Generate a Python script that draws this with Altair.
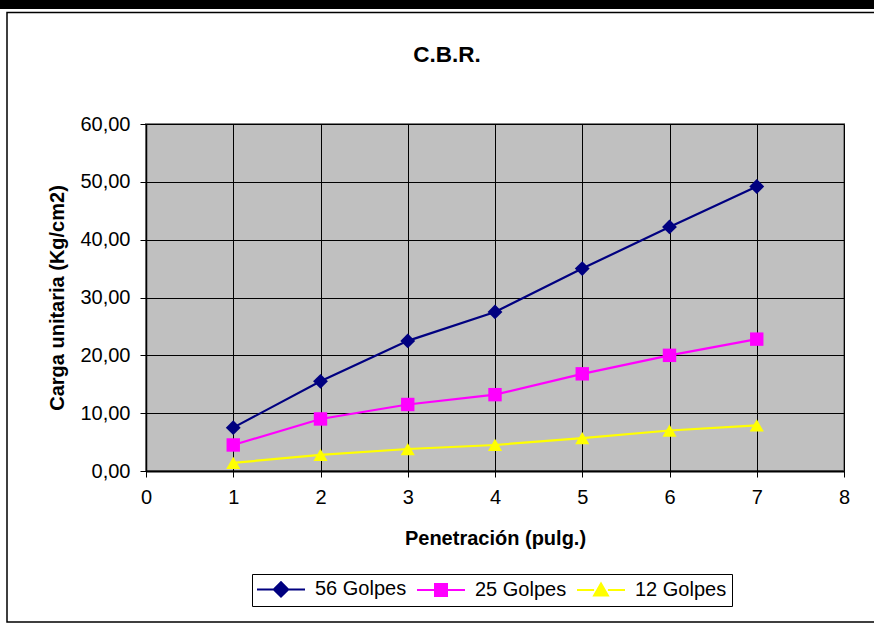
import altair as alt
import pandas as pd

# Penetración (pulg.) y carga unitaria (Kg/cm2) por número de golpes
penetracion = [1, 2, 3, 4, 5, 6, 7]
golpes_56 = [7.5, 15.5, 22.5, 27.5, 35.0, 42.2, 49.2]
golpes_25 = [4.5, 9.0, 11.5, 13.2, 16.8, 20.0, 22.8]
golpes_12 = [1.4, 2.8, 3.8, 4.5, 5.7, 7.0, 7.9]

series = ["56 Golpes", "25 Golpes", "12 Golpes"]
colores = ["#000080", "#FF00FF", "#FFFF00"]
formas = ["diamond", "square", "triangle-up"]
tamanos = [220, 180, 200]

x_ticks = [0, 1, 2, 3, 4, 5, 6, 7, 8]
y_ticks = [0, 10, 20, 30, 40, 50, 60]

titulo = "C.B.R."

rows = []
for name, vals in zip(series, [golpes_56, golpes_25, golpes_12]):
    for p, v in zip(penetracion, vals):
        rows.append({"serie": name, "penetracion": p, "carga": v})
df = pd.DataFrame(rows)

FONT = "Liberation Sans"
W, H = 698, 347
LEFT, TOP = 146, 124

# legend symbols: short line through the marker
simbolos = [
    "M-4,0H-1.2M-1.2,0L0,-1.2L1.2,0L0,1.2ZM1.2,0H4",
    "M-4,0H-1M-1,-1H1V1H-1ZM1,0H4",
    "M-4,0H-1.15M-1.15,0.9L0,-1.1L1.15,0.9ZM1.15,0H4",
]

leyenda = alt.Legend(
    title=None,
    orient="none",
    legendX=252 - LEFT,
    legendY=574 - TOP,
    direction="horizontal",
    fillColor="white",
    strokeColor="black",
    padding=5,
    symbolSize=144,
    symbolOffset=14,
    symbolStrokeWidth=2,
    symbolOpacity=1,
    labelOffset=24,
    columnPadding=6,
    labelFont=FONT,
    labelFontSize=20,
    labelColor="black",
)

x = alt.X(
    "penetracion:Q",
    scale=alt.Scale(domain=[0, 8], nice=False),
    axis=alt.Axis(
        values=x_ticks,
        title="Penetración (pulg.)",
        titleFont=FONT,
        titleFontSize=20,
        titleFontWeight="bold",
        titleColor="black",
        titlePadding=21,
        labelFont=FONT,
        labelFontSize=20,
        labelColor="black",
        labelPadding=10,
        labelFlush=False,
        tickSize=6,
        tickColor="black",
        domainColor="black",
        domainWidth=2,
        grid=True,
        gridColor="black",
        gridWidth=1,
    ),
)
y = alt.Y(
    "carga:Q",
    scale=alt.Scale(domain=[0, 60], nice=False),
    axis=alt.Axis(
        values=y_ticks,
        labelExpr="replace(format(datum.value, '.2f'), '.', ',')",
        title="Carga unitaria (Kg/cm2)",
        titleFont=FONT,
        titleFontSize=20,
        titleFontWeight="bold",
        titleColor="black",
        titlePadding=12,
        labelFont=FONT,
        labelFontSize=20,
        labelColor="black",
        labelPadding=10,
        labelFlush=False,
        tickSize=6,
        tickColor="black",
        domainColor="black",
        domainWidth=1.5,
        grid=True,
        gridColor="black",
        gridWidth=1,
    ),
)

base = alt.Chart(df)

# one line layer and one marker layer per series
line_layers = []
marker_layers = []
for name, forma, tam, col in zip(series, formas, tamanos, colores):
    sub = base.transform_filter(alt.datum.serie == name)
    line_layers.append(sub.mark_line(strokeWidth=2.2, color=col).encode(x=x, y=y))
    marker_layers.append(
        sub.mark_point(filled=True, opacity=1, shape=forma, size=tam, color=col)
        .encode(x=x, y=y)
    )

# legend carrier: draws no rows, entries come from the fixed domain
legend_layer = (
    base.transform_filter("false")
    .mark_point(strokeWidth=2, size=144, opacity=1)
    .encode(
        x=x,
        y=y,
        fill=alt.Fill("serie:N", scale=alt.Scale(domain=series, range=colores), legend=leyenda),
        stroke=alt.Stroke("serie:N", scale=alt.Scale(domain=series, range=colores), legend=leyenda),
        shape=alt.Shape("serie:N", scale=alt.Scale(domain=series, range=simbolos), legend=leyenda),
    )
)

# page decorations: heavy top rule and outer frame, plus the chart title
deco = alt.Data(values=[{"titulo": titulo}])
top_bar = alt.Chart(deco).mark_rect(color="black").encode(
    x=alt.value(-LEFT), x2=alt.value(874 - LEFT),
    y=alt.value(-TOP), y2=alt.value(9 - TOP),
)
frame = alt.Chart(deco).mark_rect(
    fill=None, stroke="black", strokeWidth=1.5
).encode(
    x=alt.value(7 - LEFT), x2=alt.value(900 - LEFT),
    y=alt.value(12.5 - TOP), y2=alt.value(622 - TOP),
)
title_text = alt.Chart(deco).mark_text(
    font=FONT, fontSize=22.5, fontWeight="bold", color="black",
    align="center", baseline="middle",
).encode(
    x=alt.value(447 - LEFT), y=alt.value(55 - TOP), text="titulo:N"
)

chart = alt.layer(
    top_bar, frame, title_text, *line_layers, *marker_layers, legend_layer
).properties(
    width=W,
    height=H,
    autosize=alt.AutoSizeParams(type="none"),
    padding={"left": LEFT, "top": TOP, "right": 874 - LEFT - W, "bottom": 630 - TOP - H},
    background="white",
).configure_view(
    fill="#C0C0C0", stroke="#808080", strokeWidth=2
)

chart.save("out.html", embed_options={"renderer": "svg", "actions": False})
